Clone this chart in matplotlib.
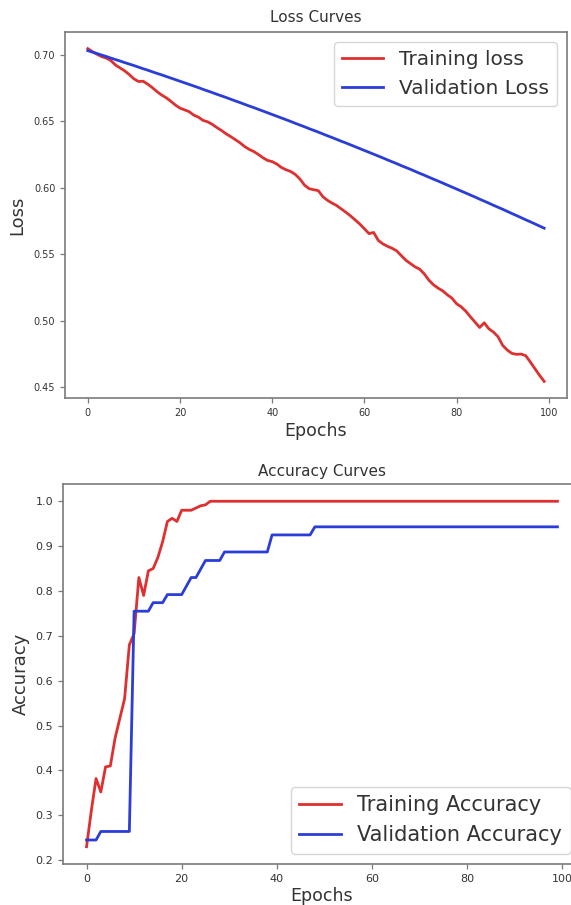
"""
Loss / accuracy curves for a 100-epoch training run, two stacked panels.

Usage:
    python plot.py      # writes out.png
"""

import matplotlib
matplotlib.use("Agg")
import matplotlib.pyplot as plt
import numpy as np

# ── data ────────────────────────────────────────────────────────────────────

epochs = np.arange(100)

train_loss = [
    0.7045, 0.7022, 0.7003, 0.6985, 0.6974, 0.6955, 0.6922, 0.6900, 0.6878, 0.6850,
    0.6818, 0.6798, 0.6800, 0.6778, 0.6752, 0.6722, 0.6697, 0.6676, 0.6650, 0.6621,
    0.6598, 0.6585, 0.6571, 0.6545, 0.6530, 0.6506, 0.6495, 0.6476, 0.6452, 0.6430,
    0.6405, 0.6384, 0.6361, 0.6338, 0.6310, 0.6288, 0.6272, 0.6250, 0.6225, 0.6205,
    0.6196, 0.6178, 0.6152, 0.6135, 0.6122, 0.6100, 0.6066, 0.6020, 0.5993, 0.5985,
    0.5978, 0.5932, 0.5905, 0.5884, 0.5866, 0.5840, 0.5815, 0.5788, 0.5758, 0.5727,
    0.5692, 0.5655, 0.5664, 0.5605, 0.5578, 0.5560, 0.5545, 0.5526, 0.5490, 0.5455,
    0.5430, 0.5405, 0.5388, 0.5352, 0.5305, 0.5270, 0.5245, 0.5225, 0.5195, 0.5170,
    0.5128, 0.5105, 0.5072, 0.5030, 0.4990, 0.4950, 0.4985, 0.4940, 0.4915, 0.4880,
    0.4815, 0.4780, 0.4755, 0.4748, 0.4750, 0.4738, 0.4690, 0.4640, 0.4590, 0.4545,
]

val_loss = [
    0.7030, 0.7019, 0.7008, 0.6997, 0.6986, 0.6974, 0.6963, 0.6952, 0.6940, 0.6929,
    0.6918, 0.6906, 0.6894, 0.6883, 0.6871, 0.6859, 0.6848, 0.6836, 0.6824, 0.6812,
    0.6800, 0.6788, 0.6776, 0.6764, 0.6752, 0.6739, 0.6727, 0.6715, 0.6702, 0.6690,
    0.6678, 0.6665, 0.6652, 0.6640, 0.6627, 0.6614, 0.6602, 0.6589, 0.6576, 0.6563,
    0.6550, 0.6537, 0.6524, 0.6511, 0.6498, 0.6484, 0.6471, 0.6458, 0.6444, 0.6431,
    0.6418, 0.6404, 0.6390, 0.6377, 0.6363, 0.6349, 0.6336, 0.6322, 0.6308, 0.6294,
    0.6280, 0.6266, 0.6252, 0.6238, 0.6224, 0.6209, 0.6195, 0.6181, 0.6166, 0.6152,
    0.6138, 0.6123, 0.6108, 0.6094, 0.6079, 0.6064, 0.6050, 0.6035, 0.6020, 0.6005,
    0.5990, 0.5975, 0.5960, 0.5945, 0.5930, 0.5914, 0.5899, 0.5884, 0.5868, 0.5853,
    0.5838, 0.5822, 0.5806, 0.5791, 0.5775, 0.5759, 0.5744, 0.5728, 0.5712, 0.5696,
]

train_acc = [
    0.230, 0.310, 0.382, 0.352, 0.408, 0.410, 0.472, 0.516, 0.560, 0.680,
    0.705, 0.830, 0.790, 0.845, 0.850, 0.875, 0.910, 0.955, 0.962, 0.955,
    0.980, 0.980, 0.980, 0.985, 0.990, 0.992, 1.000, 1.000, 1.000, 1.000,
] + [1.000] * 70

val_acc = [
    0.245, 0.245, 0.245, 0.264, 0.264, 0.264, 0.264, 0.264, 0.264, 0.264,
    0.755, 0.755, 0.755, 0.755, 0.774, 0.774, 0.774, 0.792, 0.792, 0.792,
    0.792, 0.811, 0.830, 0.830, 0.849, 0.868, 0.868, 0.868, 0.868, 0.887,
    0.887, 0.887, 0.887, 0.887, 0.887, 0.887, 0.887, 0.887, 0.887, 0.925,
    0.925, 0.925, 0.925, 0.925, 0.925, 0.925, 0.925, 0.925, 0.943, 0.943,
] + [0.943] * 50

RED = "#de3030"
BLUE = "#2b3dd8"
SPINE = "#7a7a7a"
TEXT = "#333333"


# ── helpers ─────────────────────────────────────────────────────────────────

def style_axes(ax, tick_size):
    for sp in ax.spines.values():
        sp.set_color(SPINE)
        sp.set_linewidth(1.2)
    ax.tick_params(colors=SPINE, labelcolor=TEXT, labelsize=tick_size,
                   length=3.5, width=0.9)


# ── figure ──────────────────────────────────────────────────────────────────

fig = plt.figure(figsize=(5.71, 9.05), dpi=100)
W, H = 571.0, 905.0

# axes boxes in pixels (left, top, right, bottom) from the original
ax_loss = fig.add_axes([65 / W, 1 - 398 / H, 502 / W, 366 / H])
ax_acc = fig.add_axes([63 / W, 1 - 864 / H, 518 / W, 380 / H])

# ── loss panel ────────────────────────────────────────────────────────────
ax_loss.plot(epochs, train_loss, color=RED, linewidth=2.0, label="Training loss")
ax_loss.plot(epochs, val_loss, color=BLUE, linewidth=2.0, label="Validation Loss")
ax_loss.set_title("Loss Curves", fontsize=11, color=TEXT, pad=7)
ax_loss.set_xlabel("Epochs", fontsize=12.5, color=TEXT, labelpad=3)
ax_loss.set_ylabel("Loss", fontsize=13, color=TEXT, labelpad=5)
ax_loss.set_xticks([0, 20, 40, 60, 80, 100])
ax_loss.set_yticks([0.45, 0.50, 0.55, 0.60, 0.65, 0.70])
style_axes(ax_loss, 7)
ax_loss.legend(loc="upper right", fontsize=14.5, handlelength=2.0,
               labelcolor=TEXT)

# ── accuracy panel ────────────────────────────────────────────────────────
ax_acc.plot(epochs, train_acc, color=RED, linewidth=2.0, label="Training Accuracy")
ax_acc.plot(epochs, val_acc, color=BLUE, linewidth=2.0, label="Validation Accuracy")
ax_acc.set_title("Accuracy Curves", fontsize=11, color=TEXT, pad=6)
ax_acc.set_xlabel("Epochs", fontsize=12.5, color=TEXT, labelpad=2)
ax_acc.set_ylabel("Accuracy", fontsize=13, color=TEXT, labelpad=4)
ax_acc.set_xticks([0, 20, 40, 60, 80, 100])
ax_acc.set_yticks([0.2, 0.3, 0.4, 0.5, 0.6, 0.7, 0.8, 0.9, 1.0])
style_axes(ax_acc, 8)
ax_acc.legend(loc="lower right", fontsize=15, handlelength=2.0,
              labelcolor=TEXT)

fig.savefig("out.png", dpi=100)
plt.close(fig)
